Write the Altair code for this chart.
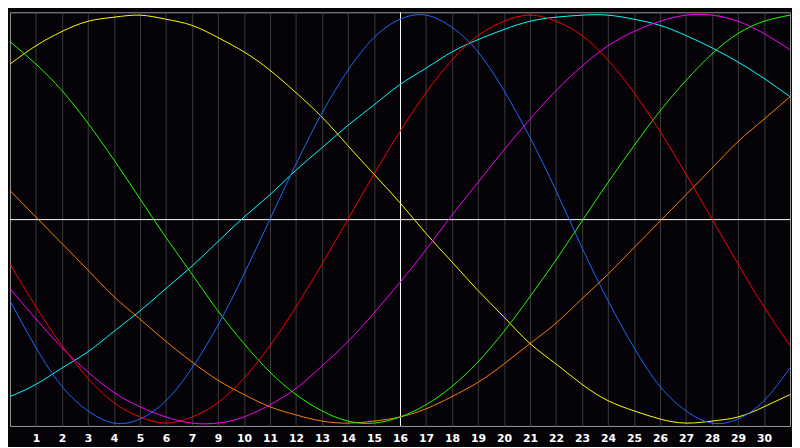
import altair as alt
import pandas as pd

days = list(range(31))

blue = [-40, -63, -82, -94, -100, -98, -89, -73, -52, -27, 0, 27, 52, 73, 89, 98,
        100, 94, 82, 63, 40, 14, -14, -40, -63, -82, -94, -100, -98, -89, -73]
red = [-22, -43, -62, -78, -90, -97, -100, -97, -90, -78, -62, -43, -22, 0, 22, 43,
       62, 78, 90, 97, 100, 97, 90, 78, 62, 43, 22, 0, -22, -43, -62]
green = [87, 76, 63, 47, 29, 10, -9, -27, -45, -61, -75, -86, -94, -99, -100, -97,
         -91, -82, -70, -55, -38, -20, -1, 18, 36, 53, 68, 81, 91, 97, 100]
magenta = [-34, -49, -63, -75, -85, -92, -97, -100, -100, -97, -91, -83, -72, -60, -46, -31,
           -15, 2, 18, 34, 49, 63, 75, 85, 92, 97, 100, 100, 97, 91, 83]
yellow = [76, 85, 92, 97, 99, 100, 98, 95, 89, 82, 73, 62, 50, 36, 22, 8,
          -7, -21, -35, -48, -61, -71, -81, -89, -94, -98, -100, -99, -97, -92, -86]
orange = [14, 1, -12, -25, -38, -49, -60, -70, -79, -86, -92, -96, -99, -100, -99, -97,
          -93, -87, -80, -71, -61, -51, -39, -27, -14, -1, 12, 25, 38, 49, 60]
cyan = [-87, -81, -73, -65, -55, -45, -34, -23, -11, 1, 12, 24, 35, 46, 56, 66,
        74, 82, 88, 93, 97, 99, 100, 100, 98, 95, 90, 84, 77, 69, 60]

series_names = ["cyan", "orange", "yellow", "magenta", "green", "red", "blue"]
series_colors = ["#00ffff", "#ff8000", "#ffff00", "#ff00ff", "#22ff00", "#ff0000", "#1a6aff"]
series_values = [cyan, orange, yellow, magenta, green, red, blue]

tick_labels = ["1", "2", "3", "4", "5", "6", "7", "9", "10", "11", "12", "13", "14", "15",
               "16", "17", "18", "19", "20", "21", "22", "23", "24", "25", "26", "27",
               "28", "29", "30"]
today = 15

rows = []
for name, vals in zip(series_names, series_values):
    for d, v in zip(days, vals):
        rows.append({"t": d, "v": v, "s": name})
df = pd.DataFrame(rows)

label_expr = "[" + ",".join("'%s'" % s for s in tick_labels) + "][datum.value - 1]"

x_enc = alt.X(
    "t:Q",
    scale=alt.Scale(domain=[0, 30], nice=False, zero=False),
    axis=alt.Axis(
        values=list(range(1, len(tick_labels) + 1)),
        labelExpr=label_expr,
        grid=True,
        gridColor="#3c3c3c",
        gridWidth=1,
        ticks=False,
        domain=False,
        labelColor="#ffffff",
        labelFont="DejaVu Sans",
        labelFontWeight="bold",
        labelFontSize=11,
        labelPadding=7,
        labelFlush=False,
        title=None,
    ),
)
y_scale = alt.Scale(domain=[-101.4, 101.4], nice=False, zero=False)

hrule = alt.Chart(pd.DataFrame({"v": [0]})).mark_rule(
    color="#ffffff", strokeWidth=1, yOffset=0.5
).encode(y=alt.Y("v:Q", scale=y_scale, axis=None))
vrule = alt.Chart(pd.DataFrame({"t": [today]})).mark_rule(
    color="#ffffff", strokeWidth=1, xOffset=0.5
).encode(x=x_enc)
lines = alt.Chart(df).mark_line(strokeWidth=1, interpolate="natural").encode(
    x=x_enc,
    y=alt.Y("v:Q", scale=y_scale, axis=None),
    color=alt.Color("s:N", scale=alt.Scale(domain=series_names, range=series_colors), legend=None),
    order=alt.Order("t:Q"),
)

chart = alt.layer(vrule, hrule, lines).properties(
    width=792, height=420, padding=0, background="#050308"
).configure_view(stroke="#9a9a9a", strokeWidth=1)

chart.save("out.html", embed_options={"renderer": "svg", "actions": False})
